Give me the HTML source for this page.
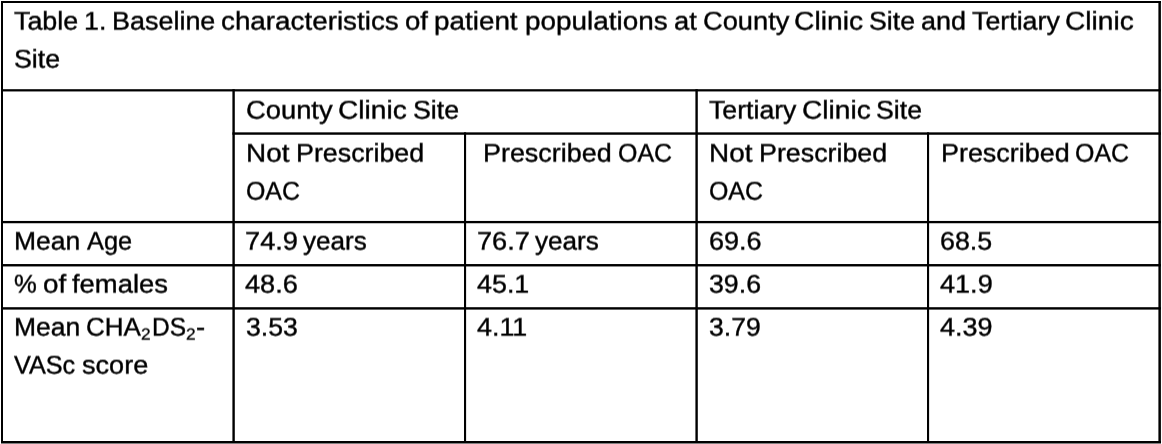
<!DOCTYPE html>
<html lang="en">
<head>
<meta charset="utf-8">
<title>Table 1</title>
<style>
html,body{margin:0;padding:0;background:#fff;}
body{width:1162px;height:444px;position:relative;overflow:hidden;font-family:"Liberation Sans",sans-serif;color:#000;text-rendering:geometricPrecision;}
svg{position:absolute;left:0;top:0;}
#text{position:absolute;left:0;top:0;width:1162px;height:444px;filter:url(#sh);}
table,tbody,tr,td{display:contents;}
.ln{position:absolute;left:0;margin:0;padding:0;font-size:0;line-height:0;white-space:pre;}
.ln span,.ln sub{display:inline-block;width:0;position:relative;white-space:pre;line-height:1;vertical-align:baseline;transform-origin:0 0;}
.ln span{font-size:25.6px;-webkit-text-stroke:0.4px #000;}
.ln sub{font-size:16.2px;-webkit-text-stroke:0.3px #000;top:4px;}
</style>
</head>
<body>
<svg width="1162" height="444" viewBox="0 0 1162 444" aria-hidden="true">
<rect x="1" y="443" width="1160" height="1" fill="#808080"/>
<rect x="1.00" y="1.00" width="1160.00" height="2.00" fill="#000"/>
<rect x="1.00" y="89.20" width="1160.00" height="2.25" fill="#000"/>
<rect x="232.40" y="132.35" width="928.60" height="2.40" fill="#000"/>
<rect x="1.00" y="220.95" width="1160.00" height="2.30" fill="#000"/>
<rect x="1.00" y="264.05" width="1160.00" height="2.40" fill="#000"/>
<rect x="1.00" y="307.20" width="1160.00" height="2.40" fill="#000"/>
<rect x="1.00" y="441.00" width="1160.00" height="2.00" fill="#000"/>
<rect x="1.00" y="1.00" width="2.00" height="442.00" fill="#000"/>
<rect x="232.40" y="89.20" width="2.40" height="353.80" fill="#000"/>
<rect x="464.00" y="132.35" width="2.10" height="310.65" fill="#000"/>
<rect x="695.40" y="89.20" width="2.40" height="353.80" fill="#000"/>
<rect x="927.00" y="132.35" width="2.10" height="310.65" fill="#000"/>
<rect x="1158.40" y="1.00" width="2.50" height="442.00" fill="#000"/>
</svg>
<svg width="0" height="0" aria-hidden="true"><defs><filter id="sh" filterUnits="userSpaceOnUse" x="0" y="0" width="1162" height="444" color-interpolation-filters="sRGB"><feConvolveMatrix order="1 3" kernelMatrix="0.4 0.6 0" edgeMode="none" preserveAlpha="false"/></filter></defs></svg>
<div id="text">
<table>
<tbody>
<tr>
<td colspan="5"><div class="ln" style="top:10px"><span style="left:13.68px;transform:scaleX(1.0494)">Table</span> <span style="left:83.97px;transform:scaleX(1.0457)">1.</span> <span style="left:111.73px;transform:scaleX(1.0527)">Baseline</span> <span style="left:221.25px;transform:scaleX(1.0864)">characteristics</span> <span style="left:404.86px;transform:scaleX(1.0795)">of</span> <span style="left:434.47px;transform:scaleX(1.0879)">patient</span> <span style="left:524.71px;transform:scaleX(1.0901)">populations</span> <span style="left:673.67px;transform:scaleX(1.0683)">at</span> <span style="left:702.50px;transform:scaleX(1.0658)">County</span> <span style="left:794.36px;transform:scaleX(1.1033)">Clinic</span> <span style="left:869.06px;transform:scaleX(1.0421)">Site</span> <span style="left:921.38px;transform:scaleX(1.0526)">and</span> <span style="left:972.11px;transform:scaleX(1.0466)">Tertiary</span> <span style="left:1065.26px;transform:scaleX(1.0984)">Clinic</span></div>
<div class="ln" style="top:48px"><span style="left:13.66px;transform:scaleX(1.0445)">Site</span></div></td>
</tr>
<tr>
<td rowspan="2"></td>
<td colspan="2"><div class="ln" style="top:99px"><span style="left:245.50px;transform:scaleX(1.0683)">County</span> <span style="left:337.96px;transform:scaleX(1.0984)">Clinic</span> <span style="left:412.70px;transform:scaleX(1.0457)">Site</span></div></td>
<td colspan="2"><div class="ln" style="top:99px"><span style="left:708.61px;transform:scaleX(1.0424)">Tertiary</span> <span style="left:801.76px;transform:scaleX(1.0984)">Clinic</span> <span style="left:876.16px;transform:scaleX(1.0421)">Site</span></div></td>
</tr>
<tr>
<td><div class="ln" style="top:142px"><span style="left:245.56px;transform:scaleX(1.0895)">Not</span> <span style="left:295.64px;transform:scaleX(1.0479)">Prescribed</span></div>
<div class="ln" style="top:180px"><span style="left:245.73px;transform:scaleX(0.9730)">OAC</span></div></td>
<td><div class="ln" style="top:142px"><span style="left:482.93px;transform:scaleX(1.0513)">Prescribed</span> <span style="left:617.73px;transform:scaleX(0.9740)">OAC</span></div></td>
<td><div class="ln" style="top:142px"><span style="left:708.76px;transform:scaleX(1.0895)">Not</span> <span style="left:758.84px;transform:scaleX(1.0479)">Prescribed</span></div>
<div class="ln" style="top:180px"><span style="left:708.93px;transform:scaleX(0.9730)">OAC</span></div></td>
<td><div class="ln" style="top:142px"><span style="left:940.58px;transform:scaleX(1.0513)">Prescribed</span> <span style="left:1075.38px;transform:scaleX(0.9740)">OAC</span></div></td>
</tr>
<tr>
<td><div class="ln" style="top:230px"><span style="left:14.11px;transform:scaleX(1.0346)">Mean</span> <span style="left:86.55px;transform:scaleX(0.9916)">Age</span></div></td>
<td><div class="ln" style="top:230px"><span style="left:245.10px;transform:scaleX(1.0639)">74.9</span> <span style="left:303.46px;transform:scaleX(1.0205)">years</span></div></td>
<td><div class="ln" style="top:230px"><span style="left:476.65px;transform:scaleX(1.0625)">76.7</span> <span style="left:534.66px;transform:scaleX(1.0205)">years</span></div></td>
<td><div class="ln" style="top:230px"><span style="left:708.51px;transform:scaleX(1.0565)">69.6</span></div></td>
<td><div class="ln" style="top:230px"><span style="left:939.97px;transform:scaleX(1.0475)">68.5</span></div></td>
</tr>
<tr>
<td><div class="ln" style="top:273px"><span style="left:14.15px;transform:scaleX(1.0024)">%</span> <span style="left:42.70px;transform:scaleX(1.0867)">of</span> <span style="left:72.27px;transform:scaleX(1.0715)">females</span></div></td>
<td><div class="ln" style="top:273px"><span style="left:245.25px;transform:scaleX(1.0608)">48.6</span></div></td>
<td><div class="ln" style="top:273px"><span style="left:476.91px;transform:scaleX(1.0500)">45.1</span></div></td>
<td><div class="ln" style="top:273px"><span style="left:709.12px;transform:scaleX(1.0442)">39.6</span></div></td>
<td><div class="ln" style="top:273px"><span style="left:940.25px;transform:scaleX(1.0577)">41.9</span></div></td>
</tr>
<tr>
<td><div class="ln" style="top:316px"><span style="left:14.11px;transform:scaleX(1.0346)">Mean</span> <span style="left:86.21px;transform:scaleX(1.0155)">CHA</span><sub style="left:141.43px;transform:scaleX(1.0710)">2</sub><span style="left:151.96px;transform:scaleX(0.9573)">DS</span><sub style="left:186.13px;transform:scaleX(1.0710)">2</sub><span style="left:196.23px;transform:scaleX(1.0717)">-</span></div>
<div class="ln" style="top:354px"><span style="left:14.17px;transform:scaleX(0.9854)">VASc</span> <span style="left:81.97px;transform:scaleX(1.0593)">score</span></div></td>
<td><div class="ln" style="top:316px"><span style="left:245.92px;transform:scaleX(1.0410)">3.53</span></div></td>
<td><div class="ln" style="top:316px"><span style="left:476.91px;transform:scaleX(1.0500)">4.11</span></div></td>
<td><div class="ln" style="top:316px"><span style="left:709.12px;transform:scaleX(1.0369)">3.79</span></div></td>
<td><div class="ln" style="top:316px"><span style="left:940.25px;transform:scaleX(1.0546)">4.39</span></div></td>
</tr>
</tbody>
</table>
</div>
</body>
</html>
